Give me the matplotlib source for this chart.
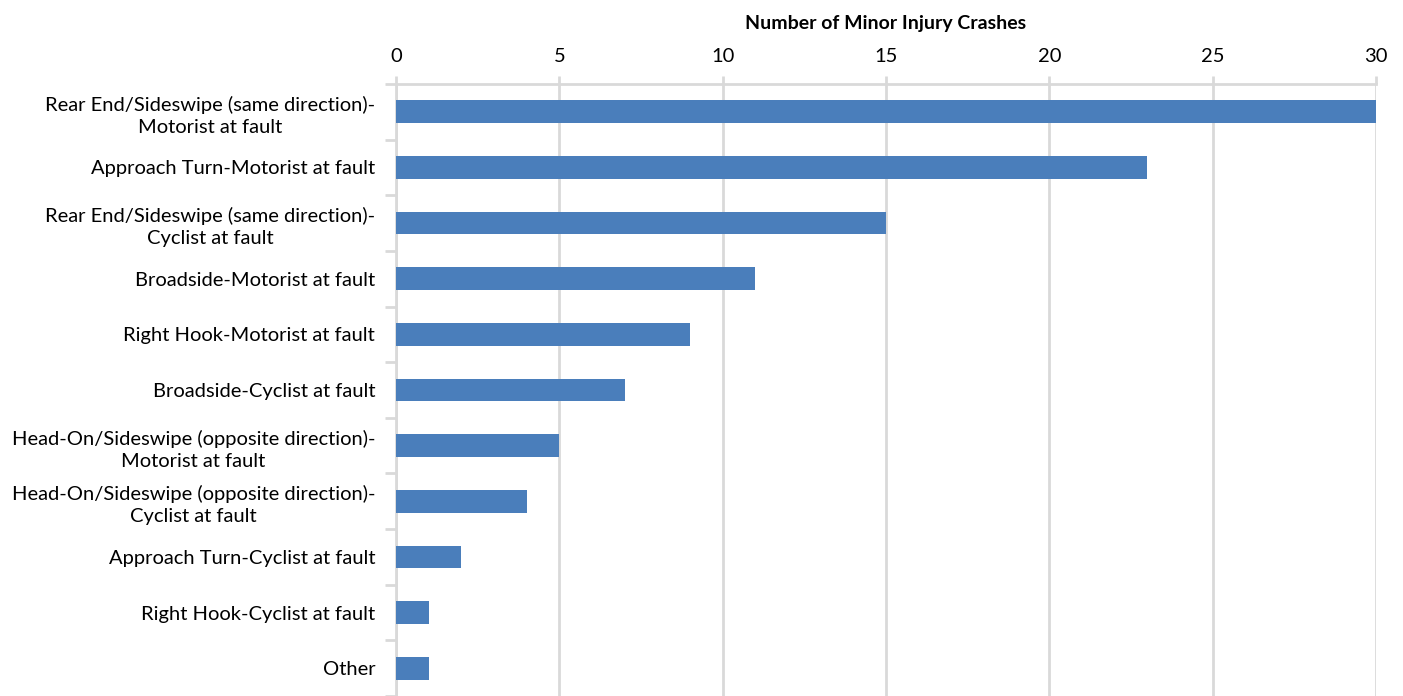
import matplotlib.pyplot as plt
import numpy as np

categories = [
    "Rear End/Sideswipe (same direction)-\nMotorist at fault",
    "Approach Turn-Motorist at fault",
    "Rear End/Sideswipe (same direction)-\nCyclist at fault",
    "Broadside-Motorist at fault",
    "Right Hook-Motorist at fault",
    "Broadside-Cyclist at fault",
    "Head-On/Sideswipe (opposite direction)-\nMotorist at fault",
    "Head-On/Sideswipe (opposite direction)-\nCyclist at fault",
    "Approach Turn-Cyclist at fault",
    "Right Hook-Cyclist at fault",
    "Other",
]
crashes = [30, 23, 15, 11, 9, 7, 5, 4, 2, 1, 1]
x_ticks = [0, 5, 10, 15, 20, 25, 30]

plt.rcParams['font.family'] = ['Lato', 'DejaVu Sans']

fig = plt.figure(figsize=(14.03, 6.96), dpi=100)
ax = fig.add_axes([396 / 1403, 0.0, (1376 - 396) / 1403, 1 - 84 / 696])

grid_color = '#d9d9d9'
y = np.arange(len(categories))
ax.barh(y, crashes, height=0.41, color='#4A7EBB', zorder=3)

ax.set_xlim(0, 30)
ax.set_ylim(10.45, -0.5)
ax.set_xticks(x_ticks)
ax.xaxis.tick_top()
ax.xaxis.set_label_position('top')
ax.set_xlabel('Number of Minor Injury Crashes', fontsize=14, fontweight='bold', labelpad=13)
ax.grid(axis='x', color=grid_color, linewidth=2, zorder=0)

ax.set_yticks(y)
ax.set_yticklabels(categories, multialignment='center', linespacing=1.35)
ax.set_yticks(np.arange(-0.5, len(categories), 1), minor=True)
ax.tick_params(axis='y', which='major', length=0, pad=15, labelsize=14.5)
ax.tick_params(axis='y', which='minor', length=8, width=2, color=grid_color)
ax.tick_params(axis='x', which='major', length=6, width=2, color=grid_color, labelsize=14.5, pad=8)

for side in ['right', 'bottom']:
    ax.spines[side].set_visible(False)
for side in ['left', 'top']:
    ax.spines[side].set_color(grid_color)
    ax.spines[side].set_linewidth(2)

fig.savefig('out.png', dpi=100)
